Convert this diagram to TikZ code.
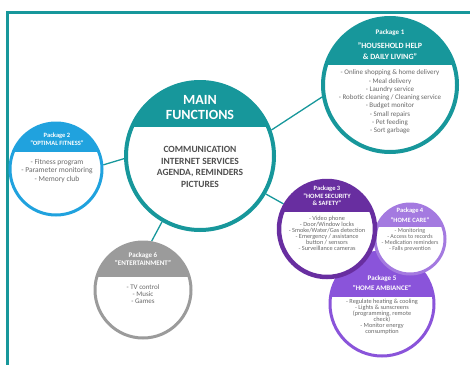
\documentclass[tikz,border=0pt]{standalone}
\usepackage{fontspec}
\setmainfont{Carlito}
\usetikzlibrary{backgrounds}
\definecolor{teal1}{RGB}{23,151,155}
\definecolor{blue2}{RGB}{32,162,222}
\definecolor{purp3}{RGB}{104,46,160}
\definecolor{lav4}{RGB}{164,122,224}
\definecolor{vio5}{RGB}{138,84,218}
\definecolor{gray6}{RGB}{155,155,155}
\definecolor{itemgray}{RGB}{105,105,105}
\definecolor{bodygray}{RGB}{80,80,80}
\tikzset{
  pkg/.style n args={4}{circle, inner sep=0pt, minimum size=#2, draw=#1, line width=#4, fill=white,
    path picture={\fill[#1] ([xshift=-150pt,yshift=#3]path picture bounding box.center) rectangle ([xshift=150pt]path picture bounding box.north);}},
  link/.style={draw=teal1, line width=1.3pt},
  hdr/.style={text=white, font=\bfseries, align=center, inner sep=0pt},
  items/.style={text=itemgray, align=center, inner sep=0pt},
}
\begin{document}
\begin{tikzpicture}[x=1pt,y=-1pt]
\useasboundingbox (0,0) rectangle (470,364);
% frame
\draw[teal1, line width=3pt] (7,366) -- (7,12) -- (472,12);
\node[pkg={teal1}{148pt}{29pt}{4pt}] (main) at (200,156) {};
\node[pkg={teal1}{134pt}{20pt}{4pt}] (p1) at (390,85) {};
\node[pkg={blue2}{92pt}{17pt}{3pt}] (p2) at (56,169) {};
\node[pkg={gray6}{96pt}{13pt}{3pt}] (p6) at (143,290) {};
\node[pkg={vio5}{104pt}{7pt}{3pt}] (p5) at (382,304) {};
\node[pkg={lav4}{70pt}{12pt}{3pt}] (p4) at (410,239) {};
\node[pkg={purp3}{96pt}{17pt}{4.5pt}] (p3) at (327,229) {};
\begin{scope}[on background layer]
\draw[link] (main.20) -- (p1.190);
\draw[link] (main.182) -- (p2.5);
\draw[link] (main.240) -- (p6.80);
\draw[link] (main.-30) -- (p3.150);
\end{scope}
% main text
\node[hdr, font=\bfseries\fontsize{14}{15}\selectfont] (mt) at (200,108) {MAIN\\FUNCTIONS};
\node[text=bodygray, font=\bfseries\fontsize{9.5}{11.5}\selectfont, align=center, inner sep=0pt] (mb) at (200,167) {COMMUNICATION\\INTERNET SERVICES\\AGENDA, REMINDERS\\PICTURES};
% package 1
\node[hdr, font=\bfseries\fontsize{7}{8}\selectfont] (h1a) at (390,33) {Package 1};
\node[hdr, font=\bfseries\fontsize{8}{11}\selectfont] (h1b) at (390,51) {"HOUSEHOLD HELP\\\& DAILY LIVING"};
\node[items, font=\fontsize{7}{8.3}\selectfont] (i1) at (390,102) {- Online shopping \& home delivery\\- Meal delivery\\- Laundry service\\- Robotic cleaning / Cleaning service\\- Budget monitor\\- Small repairs\\- Pet feeding\\- Sort garbage};
% package 2
\node[hdr, font=\bfseries\fontsize{6.5}{8}\selectfont] (h2) at (57,139) {Package 2\\"OPTIMAL FITNESS"};
\node[items, font=\fontsize{7.5}{8.5}\selectfont] (i2) at (57,171) {- Fitness program\\- Parameter monitoring\\- Memory club};
% package 6
\node[hdr, font=\bfseries\fontsize{7}{8.5}\selectfont] (h6) at (143,259) {Package 6\\"ENTERTAINMENT"};
\node[items, font=\fontsize{7}{7}\selectfont] (i6) at (143,294) {- TV control\\- Music\\- Games};
% package 5
\node[hdr, font=\bfseries\fontsize{7}{9.5}\selectfont] (h5) at (382,283) {Package 5\\"HOME AMBIANCE"};
\node[items, font=\fontsize{6.3}{6}\selectfont] (i5) at (382,317) {- Regulate heating \& cooling\\- Lights \& sunscreens\\(programming, remote\\check)\\- Monitor energy\\consumption};
% package 4
\node[hdr, font=\bfseries\fontsize{6.5}{9.5}\selectfont] (h4) at (410,215) {Package 4\\"HOME CARE"};
\node[items, font=\fontsize{6}{6}\selectfont] (i4) at (410,240) {- Monitoring\\- Access to records\\- Medication reminders\\- Falls prevention};
% package 3
\node[hdr, font=\bfseries\fontsize{6.5}{7.5}\selectfont] (h3) at (327,196) {Package 3\\"HOME SECURITY\\\& SAFETY"};
\node[items, font=\fontsize{6.3}{6}\selectfont] (i3) at (327,233) {- Video phone\\- Door/Window locks\\- Smoke/Water/Gas detection\\- Emergency / assistance\\button / sensors\\- Surveillance cameras};
\end{tikzpicture}
\end{document}
